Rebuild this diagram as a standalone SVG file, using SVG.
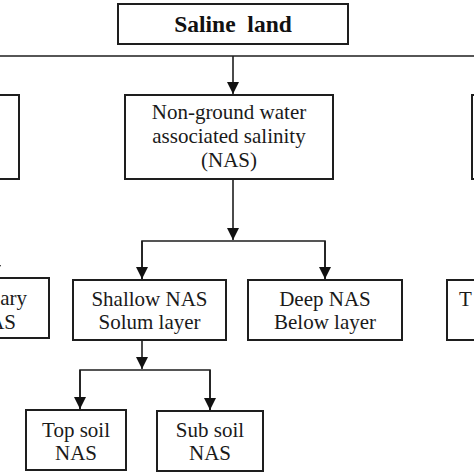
<svg xmlns="http://www.w3.org/2000/svg" width="474" height="474" viewBox="0 0 474 474">
<style>
  .box { fill: #ffffff; stroke: #1e1e1e; stroke-width: 2; }
  .ln { fill: none; stroke: #1e1e1e; stroke-width: 1.6; }
  text { font-family: 'Liberation Serif', 'Times New Roman', Times, serif; }
  .t { font-size: 21px; fill: #1a1a1a; text-anchor: middle; }
  .tb { font-size: 23.5px; font-weight: bold; fill: #111111; text-anchor: middle; }
</style>
<defs>
  <marker id="ah" markerUnits="userSpaceOnUse" markerWidth="12" markerHeight="12" viewBox="0 0 12 12" refX="12" refY="6" orient="auto">
    <path d="M0,0 L12,6 L0,12 Z" fill="#111111"/>
  </marker>
</defs>
<rect width="474" height="474" fill="#ffffff"/>

<g id="connectors">
  <line class="ln" x1="0" y1="56" x2="474" y2="56"/>
  <line class="ln" x1="233" y1="56" x2="233" y2="94" marker-end="url(#ah)"/>
  <line class="ln" x1="233" y1="179" x2="233" y2="240" marker-end="url(#ah)"/>
  <polyline class="ln" points="142,279 142,241 325,241 325,279"/>
  <line class="ln" x1="142" y1="241" x2="142" y2="279" marker-end="url(#ah)"/>
  <line class="ln" x1="325" y1="241" x2="325" y2="279" marker-end="url(#ah)"/>
  <path d="M-11,265 L1,265 L-5,277 Z" fill="#111111"/>
  <line class="ln" x1="142" y1="340" x2="142" y2="369" marker-end="url(#ah)"/>
  <polyline class="ln" points="80,409 80,370 210,370 210,410"/>
  <line class="ln" x1="80" y1="370" x2="80" y2="409" marker-end="url(#ah)"/>
  <line class="ln" x1="210" y1="370" x2="210" y2="410" marker-end="url(#ah)"/>
</g>

<g id="saline-land">
  <rect class="box" x="118" y="4" width="230" height="40"/>
  <text class="tb" x="233" y="32" xml:space="preserve">Saline  land</text>
</g>

<g id="left-top">
  <rect class="box" x="-60" y="95" width="79" height="84"/>
</g>

<g id="nas">
  <rect class="box" x="125" y="95" width="208" height="84"/>
  <text class="t" x="229" y="119">Non-ground water</text>
  <text class="t" x="229" y="143">associated salinity</text>
  <text class="t" x="229" y="167">(NAS)</text>
</g>

<g id="right-top">
  <rect class="box" x="472" y="95" width="60" height="84"/>
</g>

<g id="left-mid">
  <rect class="box" x="-80" y="278" width="129" height="60"/>
  <text class="t" x="27" y="305" style="text-anchor:end">mary</text>
  <text class="t" x="16" y="329" style="text-anchor:end">AS</text>
</g>

<g id="shallow-nas">
  <rect class="box" x="73" y="280" width="153" height="60"/>
  <text class="t" x="149.5" y="306">Shallow NAS</text>
  <text class="t" x="149.5" y="329">Solum layer</text>
</g>

<g id="deep-nas">
  <rect class="box" x="248" y="280" width="154" height="60"/>
  <text class="t" x="325" y="306">Deep NAS</text>
  <text class="t" x="325" y="329">Below layer</text>
</g>

<g id="right-mid">
  <rect class="box" x="447" y="280" width="60" height="60"/>
  <text class="t" x="459" y="306" style="text-anchor:start">T</text>
</g>

<g id="top-soil">
  <rect class="box" x="26" y="410" width="100" height="60"/>
  <text class="t" x="76" y="437">Top soil</text>
  <text class="t" x="76" y="460">NAS</text>
</g>

<g id="sub-soil">
  <rect class="box" x="157" y="411" width="106" height="60"/>
  <text class="t" x="210" y="437">Sub soil</text>
  <text class="t" x="210" y="460">NAS</text>
</g>
</svg>
